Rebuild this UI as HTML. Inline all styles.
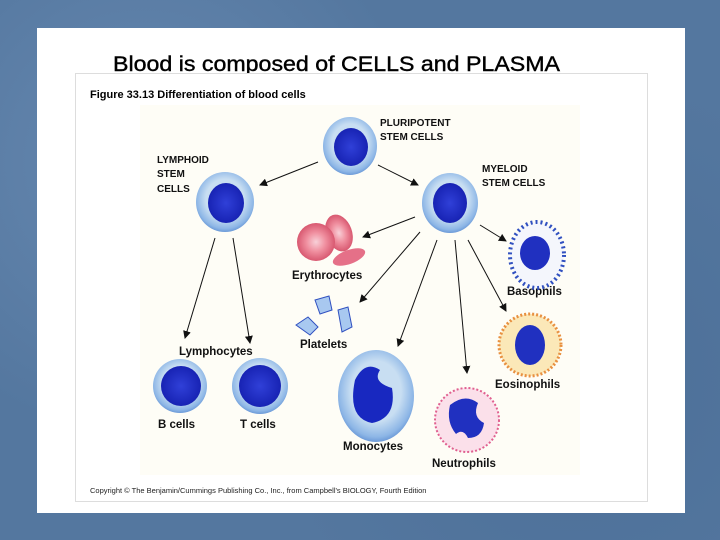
<!DOCTYPE html>
<html><head><style>
html,body{margin:0;padding:0;width:720px;height:540px;overflow:hidden}
body{background:#54779f;background-image:radial-gradient(circle at 20% 30%,#6688b0 0,transparent 40%),radial-gradient(circle at 80% 70%,#4c6f98 0,transparent 45%);}
</style></head><body>
<svg width="720" height="540" viewBox="0 0 720 540" style="position:absolute;left:0;top:0" font-family="Liberation Sans, sans-serif">
<defs>
<radialGradient id="cyt" cx="50%" cy="45%" r="55%"><stop offset="0.6" stop-color="#c8def2"/><stop offset="0.9" stop-color="#8db6e6"/><stop offset="1" stop-color="#6c9ad8"/></radialGradient>
<radialGradient id="nuc" cx="50%" cy="50%" r="55%"><stop offset="0" stop-color="#3040d8"/><stop offset="1" stop-color="#1520b0"/></radialGradient>
<radialGradient id="rbc" cx="50%" cy="50%" r="50%"><stop offset="0" stop-color="#f8d0d8"/><stop offset="0.5" stop-color="#f090a0"/><stop offset="1" stop-color="#d85870"/></radialGradient>
<marker id="ar" markerWidth="8" markerHeight="8" refX="7" refY="4" orient="auto" markerUnits="userSpaceOnUse"><path d="M0,0 L8,4 L0,8 Z" fill="#111"/></marker>
</defs>
<rect x="37" y="28" width="648" height="485" fill="#fff"/>
<text x="113" y="71" font-size="21" stroke="#000" stroke-width="0.4" textLength="447" lengthAdjust="spacingAndGlyphs" fill="#000">Blood is composed of CELLS and PLASMA</text>
<rect x="75.5" y="73.5" width="572" height="428" fill="#fff" stroke="#ddd"/>
<rect x="140" y="105" width="440" height="370" fill="#fefdf6"/>
<text x="90" y="98" font-size="11" font-weight="bold">Figure 33.13  Differentiation of blood cells</text>
<g font-size="10" font-weight="bold" fill="#111">
<text x="380" y="126">PLURIPOTENT</text><text x="380" y="140">STEM CELLS</text>
<text x="157" y="163">LYMPHOID</text><text x="157" y="177">STEM</text><text x="157" y="192">CELLS</text>
<text x="482" y="172">MYELOID</text><text x="482" y="186">STEM CELLS</text>
</g>
<g font-size="11.5" font-weight="bold" fill="#111">
<text x="292" y="279">Erythrocytes</text>
<text x="507" y="295">Basophils</text>
<text x="300" y="348">Platelets</text>
<text x="179" y="355">Lymphocytes</text>
<text x="495" y="388">Eosinophils</text>
<text x="158" y="428">B cells</text>
<text x="240" y="428">T cells</text>
<text x="343" y="450">Monocytes</text>
<text x="432" y="467">Neutrophils</text>
</g>
<text x="90" y="493" font-size="7.5" fill="#222">Copyright © The Benjamin/Cummings Publishing Co., Inc., from Campbell's BIOLOGY, Fourth Edition</text>
<g stroke="#111" stroke-width="1" marker-end="url(#ar)">
<line x1="318" y1="162" x2="260" y2="185"/>
<line x1="378" y1="165" x2="418" y2="185"/>
<line x1="415" y1="217" x2="363" y2="237"/>
<line x1="480" y1="225" x2="506" y2="241"/>
<line x1="420" y1="232" x2="360" y2="302"/>
<line x1="437" y1="240" x2="398" y2="346"/>
<line x1="455" y1="240" x2="467" y2="373"/>
<line x1="468" y1="240" x2="506" y2="311"/>
<line x1="215" y1="238" x2="185" y2="338"/>
<line x1="233" y1="238" x2="250" y2="343"/>
</g>
<ellipse cx="350" cy="146" rx="27" ry="29" fill="url(#cyt)"/><ellipse cx="351" cy="147" rx="17" ry="19" fill="url(#nuc)"/>
<ellipse cx="225" cy="202" rx="29" ry="30" fill="url(#cyt)"/><ellipse cx="226" cy="203" rx="18" ry="20" fill="url(#nuc)"/>
<ellipse cx="450" cy="203" rx="28" ry="30" fill="url(#cyt)"/><ellipse cx="450" cy="203" rx="17" ry="20" fill="url(#nuc)"/>
<ellipse cx="339" cy="233" rx="13" ry="19" fill="url(#rbc)" transform="rotate(-20 339 233)"/>
<circle cx="316" cy="242" r="19" fill="url(#rbc)"/>
<ellipse cx="349" cy="257" rx="17" ry="7" fill="#e57088" transform="rotate(-20 349 257)"/>
<ellipse cx="537" cy="255" rx="27" ry="33" fill="#f4f6fc" stroke="#3050c0" stroke-width="4" stroke-dasharray="2 3"/>
<ellipse cx="535" cy="253" rx="15" ry="17" fill="#2030c0"/>
<path d="M296,325 l12,-8 l10,10 l-8,8 z M315,300 l14,-4 l3,14 l-12,4z M338,310 l10,-3 l4,20 l-10,5z" fill="#a8c8f0" stroke="#3050c0"/>
<circle cx="530" cy="345" r="31" fill="#fbe8b8" stroke="#e89040" stroke-width="3" stroke-dasharray="2 2"/>
<ellipse cx="530" cy="345" rx="15" ry="20" fill="#2030c0"/>
<ellipse cx="376" cy="396" rx="38" ry="46" fill="url(#cyt)"/>
<path d="M355,380 q10,-20 25,-10 q-8,12 12,18 q5,30 -20,35 q-25,-5 -17,-43z" fill="#1828c0"/>
<circle cx="467" cy="420" r="32" fill="#fbe0ea" stroke="#e06090" stroke-width="2" stroke-dasharray="2 2"/>
<path d="M450,405 q15,-12 28,-2 q-6,14 6,20 q-2,15 -16,15 q-5,-10 -12,-4 q-10,-12 -6,-29z" fill="#2030c0"/>
<circle cx="180" cy="386" r="27" fill="url(#cyt)"/><circle cx="181" cy="386" r="20" fill="url(#nuc)"/>
<circle cx="260" cy="386" r="28" fill="url(#cyt)"/><circle cx="260" cy="386" r="21" fill="url(#nuc)"/>
</svg>
</body></html>
